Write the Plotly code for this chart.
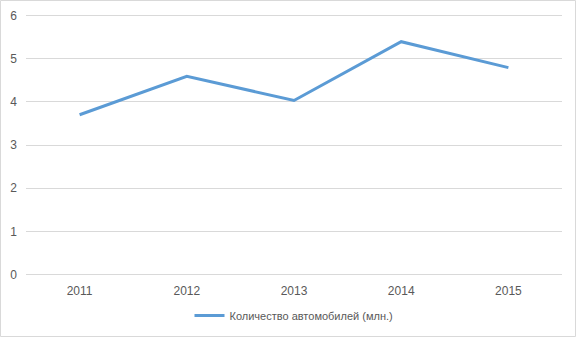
import plotly.graph_objects as go

years = ["2011", "2012", "2013", "2014", "2015"]
cars = [3.7, 4.59, 4.03, 5.39, 4.79]
series_name = "Количество автомобилей (млн.)"

W, H = 578, 338
ml, mr, mt, mb = 26, 16, 14, 62
pw, ph = W - ml - mr, H - mt - mb

fig = go.Figure()
fig.add_trace(go.Scatter(
    x=years, y=cars, mode="lines", name=series_name,
    line=dict(color="#5b9bd5", width=3),
))

fig.update_layout(
    width=W, height=H,
    margin=dict(l=ml, r=mr, t=mt, b=mb, autoexpand=False),
    paper_bgcolor="white", plot_bgcolor="white",
    font=dict(family="Liberation Sans, Arial, sans-serif", size=11, color="#595959"),
    showlegend=True,
    legend=dict(orientation="h", x=0.5, xanchor="center", y=-0.095, yanchor="top",
                font=dict(size=11, color="#595959")),
    xaxis=dict(type="category", range=[-0.5, 4.5], showgrid=False, zeroline=False,
               showline=False, ticks="", automargin=False, ticklabelstandoff=6,
               tickfont=dict(size=12, color="#595959")),
    yaxis=dict(range=[-0.03, 6.03], tickvals=[0, 1, 2, 3, 4, 5, 6], showgrid=True,
               gridcolor="#d9d9d9", gridwidth=1,
               zeroline=False, showline=False, ticks="", automargin=False,
               ticklabelstandoff=8, tickfont=dict(size=12, color="#595959")),
)

# outer chart border
fig.add_shape(type="rect", xref="paper", yref="paper",
              x0=(0.5 - ml) / pw, x1=(W - 2.5 - ml) / pw,
              y0=-(H - 1.5 - mt - ph) / ph, y1=(mt - 0.5) / ph + 1,
              line=dict(color="#d9d9d9", width=1), fillcolor="rgba(0,0,0,0)", layer="below")

fig.write_html("out.html", config={"displayModeBar": False},
               post_script="document.body.style.margin='0';")
